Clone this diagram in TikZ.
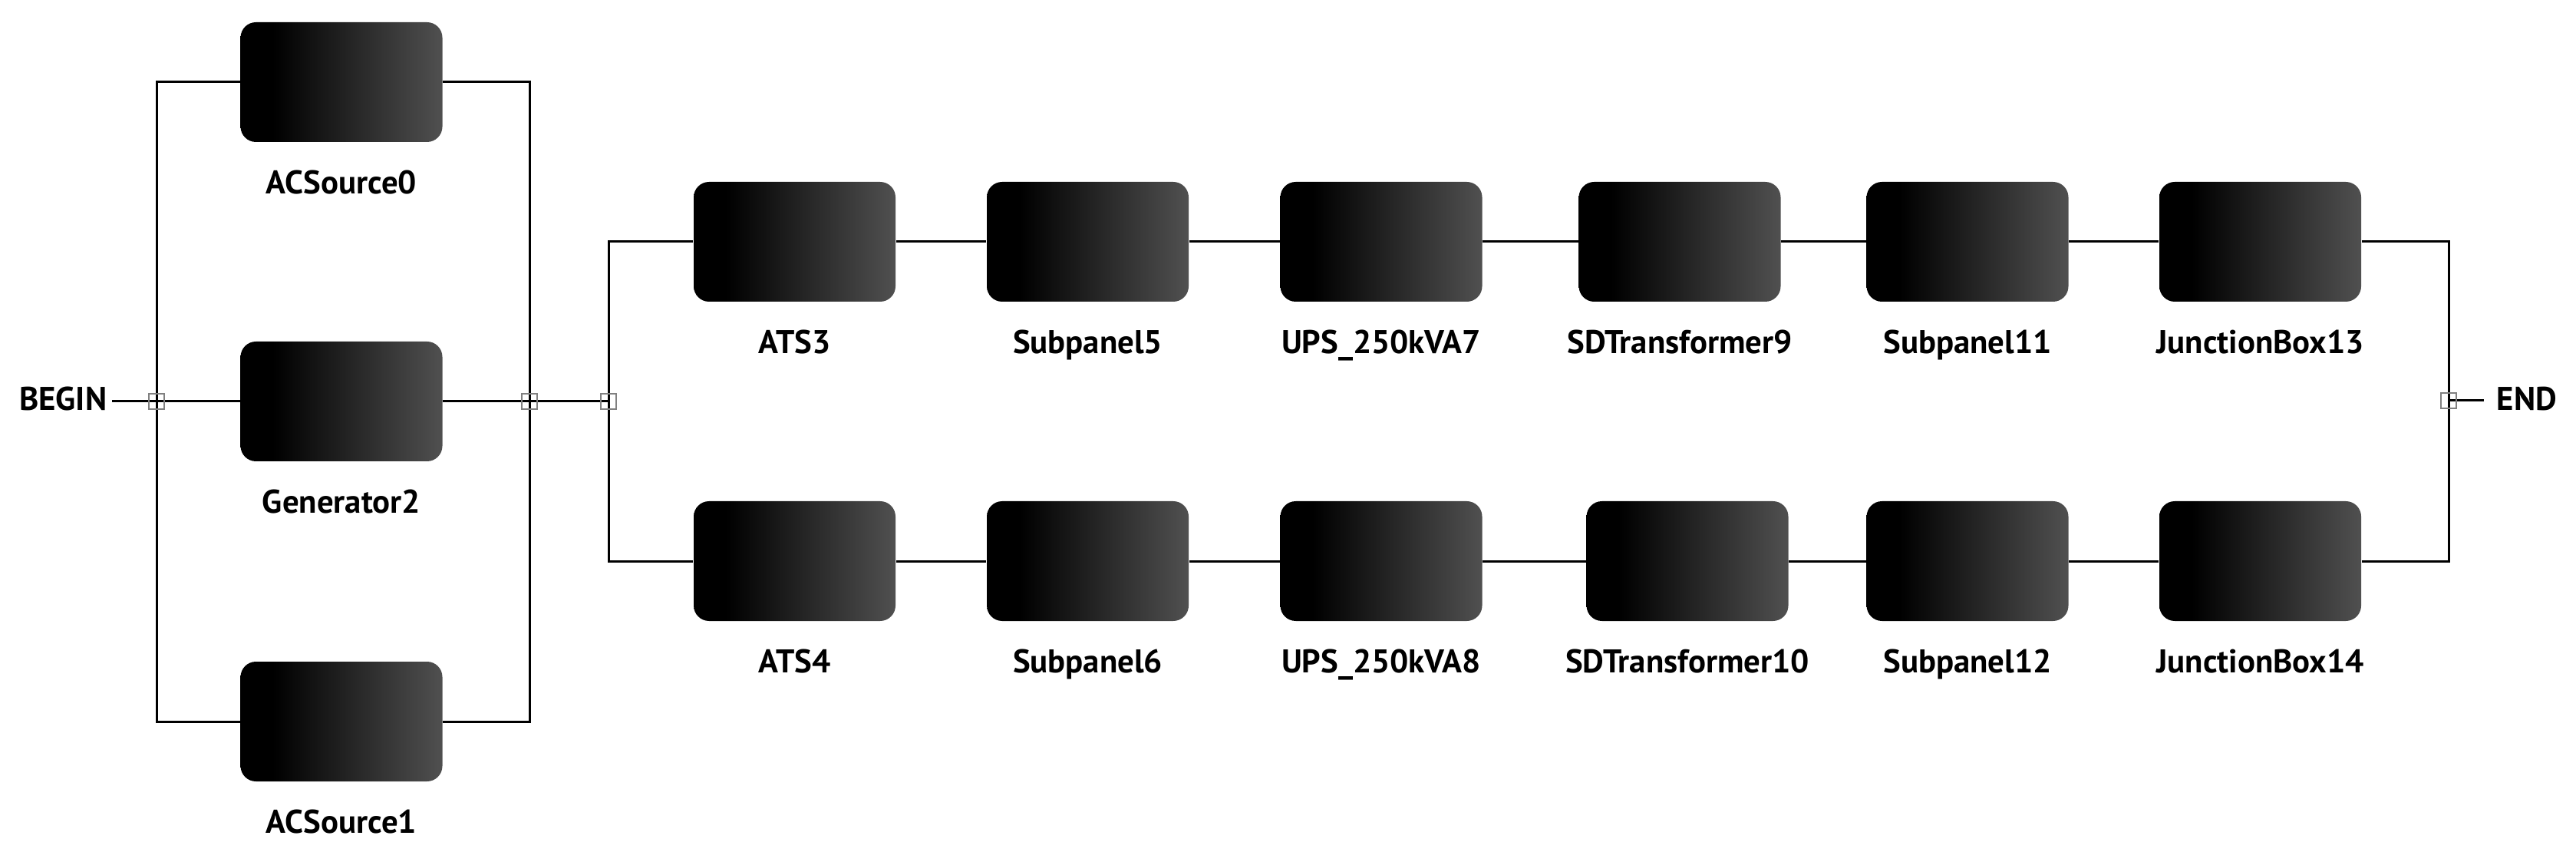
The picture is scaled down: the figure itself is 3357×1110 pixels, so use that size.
\documentclass[tikz,border=0pt]{standalone}
\usepackage{fontspec}
\setmainfont{PT Sans}
\usetikzlibrary{backgrounds}
\definecolor{boxgray}{RGB}{80,80,80}
\definecolor{jgray}{RGB}{128,128,128}
\pgfdeclarehorizontalshading{boxgrad}{100bp}{color(0bp)=(black); color(33bp)=(black); color(75bp)=(boxgray); color(100bp)=(boxgray)}
\tikzset{
  comp/.style={shade, shading=boxgrad, rounded corners=5pt, minimum width=65.75pt, minimum height=39pt, inner sep=0pt},
  jn/.style={draw=jgray, line width=0.7pt, minimum size=5pt, inner sep=0pt},
  txt/.style={font=\fontsize{10.7}{12}\selectfont\bfseries, inner sep=0pt},
  lbl/.style={txt, anchor=base},
  wire/.style={line width=0.75pt, draw=black},
}
\begin{document}
\begin{tikzpicture}[x=0.25pt,y=-0.25pt]
\useasboundingbox (0,0) rectangle (3357,1110);
% left parallel sources
\node[comp] (ac0) at (445,107) {};
\node[comp] (gen) at (445,523) {};
\node[comp] (ac1) at (445,940) {};
\node[lbl] (lac0) at ([yshift=-16.75pt]ac0.south) {ACSource0};
\node[lbl] (lgen) at ([yshift=-16.75pt]gen.south) {Generator2};
\node[lbl] (lac1) at ([yshift=-16.75pt]ac1.south) {ACSource1};
% upper chain
\node[comp] (ats3) at (1035.5,315) {};
\node[comp] (sp5) at (1417.5,315) {};
\node[comp] (ups7) at (1800,315) {};
\node[comp] (sdt9) at (2189,315) {};
\node[comp] (sp11) at (2564,315) {};
\node[comp] (jb13) at (2945.5,315) {};
% lower chain
\node[comp] (ats4) at (1035.5,731) {};
\node[comp] (sp6) at (1417.5,731) {};
\node[comp] (ups8) at (1800,731) {};
\node[comp] (sdt10) at (2199,731) {};
\node[comp] (sp12) at (2564,731) {};
\node[comp] (jb14) at (2945.5,731) {};
% labels
\node[lbl] (lats3) at ([yshift=-16.75pt]ats3.south) {ATS3};
\node[lbl] (lsp5) at ([yshift=-16.75pt]sp5.south) {Subpanel5};
\node[lbl] (lups7) at ([yshift=-16.75pt]ups7.south) {UPS\_250kVA7};
\node[lbl] (lsdt9) at ([yshift=-16.75pt]sdt9.south) {SDTransformer9};
\node[lbl] (lsp11) at ([yshift=-16.75pt]sp11.south) {Subpanel11};
\node[lbl] (ljb13) at ([yshift=-16.75pt]jb13.south) {JunctionBox13};
\node[lbl] (lats4) at ([yshift=-16.75pt]ats4.south) {ATS4};
\node[lbl] (lsp6) at ([yshift=-16.75pt]sp6.south) {Subpanel6};
\node[lbl] (lups8) at ([yshift=-16.75pt]ups8.south) {UPS\_250kVA8};
\node[lbl] (lsdt10) at ([yshift=-16.75pt]sdt10.south) {SDTransformer10};
\node[lbl] (lsp12) at ([yshift=-16.75pt]sp12.south) {Subpanel12};
\node[lbl] (ljb14) at ([yshift=-16.75pt]jb14.south) {JunctionBox14};
% begin / end
\node[txt, anchor=east, inner xsep=1.5pt] (begin) at (146,520) {BEGIN};
\node[txt, anchor=west, inner xsep=4pt] (end) at (3237,520) {END};
% junctions
\node[jn] (j1) at (204,523) {};
\node[jn] (j2) at (690,523) {};
\node[jn] (j3) at (793,523) {};
\node[jn] (j4) at (3191,522) {};
\begin{scope}[on background layer]
\draw[wire] (j1.center -| begin.east) -- (j1.center);
\draw[wire] (j1.center) |- (ac0.west);
\draw[wire] (j1.center) |- (ac1.west);
\draw[wire] (j1.center) -- (gen.west);
\draw[wire] (ac0.east) -| (j2.center);
\draw[wire] (ac1.east) -| (j2.center);
\draw[wire] (gen.east) -- (j2.center);
\draw[wire] (j2.center) -- (j3.center);
\draw[wire] (j3.center) |- (ats3.west);
\draw[wire] (j3.center) |- (ats4.west);
\draw[wire] (ats3) -- (sp5);
\draw[wire] (sp5) -- (ups7);
\draw[wire] (ups7) -- (sdt9);
\draw[wire] (sdt9) -- (sp11);
\draw[wire] (sp11) -- (jb13);
\draw[wire] (ats4) -- (sp6);
\draw[wire] (sp6) -- (ups8);
\draw[wire] (ups8) -- (sdt10);
\draw[wire] (sdt10) -- (sp12);
\draw[wire] (sp12) -- (jb14);
\draw[wire] (jb13.east) -| (j4.center);
\draw[wire] (jb14.east) -| (j4.center);
\draw[wire] (j4.center) -- (j4.center -| end.west);
\end{scope}
\end{tikzpicture}
\end{document}
